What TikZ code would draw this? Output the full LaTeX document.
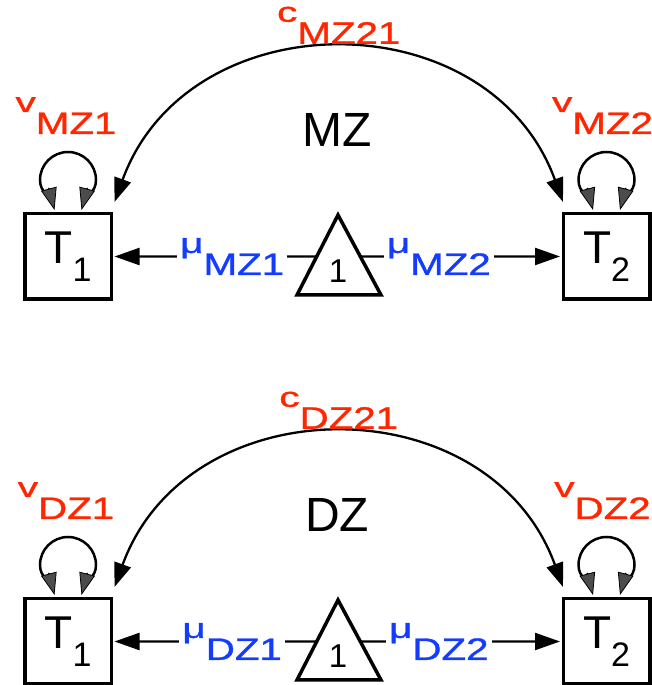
\documentclass[tikz,border=0pt]{standalone}
\usepackage{fontspec}
\usepackage{graphicx}
\setmainfont{Liberation Sans}
\newfontfamily\labfont{Liberation Sans}[FakeBold=0.9]
\usetikzlibrary{arrows.meta,positioning}
\definecolor{parred}{RGB}{255,38,0}
\definecolor{parblue}{RGB}{20,60,255}
\newcommand{\fsz}[1]{\fontsize{#1}{#1}\selectfont}
% small letter raised, subscript set large
\newcommand{\parlabel}[2]{\labfont\raisebox{22pt}{\scalebox{1.45}[1]{\fsz{28}#1}}\scalebox{1.3}[1]{\fsz{31}#2}}

\begin{document}
\begin{tikzpicture}[line cap=round, x=1pt, y=1pt]
	\tikzset{
		box/.style={draw, line width=3.5pt, minimum width=86.5pt, minimum height=85.5pt, inner sep=0pt, font=\fsz{46}},
		arr/.style={line width=2.3pt, -{Triangle[length=25pt,width=17pt]}, shorten >=1.5pt},
		dblarr/.style={line width=2.3pt, {Triangle[length=24pt,width=17pt]}-{Triangle[length=24pt,width=17pt]}},
		looparr/.style={line width=2.5pt, {Triangle[length=22pt,width=16pt,fill=black!70,line width=0.8pt]}-{Triangle[length=22pt,width=16pt,fill=black!70,line width=0.8pt]}},
		varlab/.style={text=parred, inner sep=0pt},
		mulab/.style={text=parblue, fill=white, inner xsep=3pt, inner ysep=0pt}
	}
	\useasboundingbox (0,0) rectangle (652,685);
	\foreach \g/\dy in {MZ/0,DZ/-385}{
		\begin{scope}[yshift=\dy]
			\node[box] (T1\g) at (68,428.5) {T\raisebox{-18pt}{\fsz{34}1}};
			\node[box] (T2\g) at (606.5,428.5) {T\raisebox{-18pt}{\fsz{34}2}};
			\node[font=\fsz{48}, anchor=base] (grp\g) at (337,538) {\g};
			% mean triangle
			\draw[line width=3.5pt] (297,390) -- coordinate[pos=0.481] (triL\g) (338,470) -- coordinate[pos=0.519] (triR\g) (381,390) -- cycle;
			\node[font=\fsz{33}] (one\g) at (338,413.5) {1};
			\draw[arr] (triL\g) -- node[mulab, pos=0.415] (mu\g1) {\parlabel{μ}{\g1}} (T1\g.east);
			\draw[arr] (triR\g) -- node[mulab, pos=0.39] (mu\g2) {\parlabel{μ}{\g2}} (T2\g.west);
			% variances
			\foreach \t in {T1,T2}
			\draw[looparr] ([xshift=13.5pt,yshift=2pt]\t\g.north) to[out=75,in=-90] ++(14.5,30) arc[start angle=0,end angle=180,radius=28] to[out=-90,in=105] ([xshift=-13.5pt,yshift=2pt]\t\g.north);
			\node[varlab, anchor=base] (v\g1) at ([shift={(-2pt,78pt)}]T1\g.north) {\parlabel{v}{\g1}};
			\node[varlab, anchor=base] (v\g2) at ([shift={(-4pt,78pt)}]T2\g.north) {\parlabel{v}{\g2}};
			% covariance
			\draw[dblarr] ([shift={(1.5pt,10pt)}]T1\g.north east) to[out=70,in=110,distance=216pt] node[varlab, pos=0.5, anchor=base, yshift=6pt] (c\g) {\parlabel{c}{\g21}} ([shift={(1.5pt,10pt)}]T2\g.north west);
		\end{scope}
	}
\end{tikzpicture}
\end{document}
